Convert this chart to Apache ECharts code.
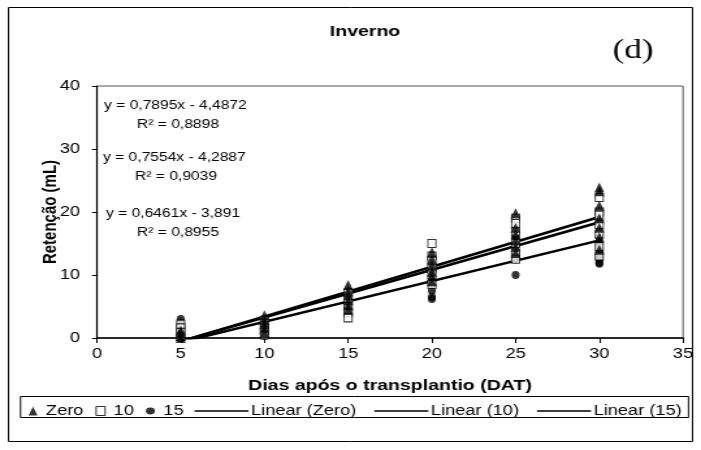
<!DOCTYPE html>
<html><head><meta charset="utf-8">
<script src="https://cdn.jsdelivr.net/npm/echarts@6/dist/echarts.min.js"></script>
<style>html,body{margin:0;padding:0;background:#fff;overflow:hidden;width:701px;height:450px}
#c{width:539px;height:450px;transform:scaleX(1.3006);transform-origin:0 0}</style>
</head><body><div id="c"></div>
<script>
const xTicks = [0,5,10,15,20,25,30,35];
const yTicks = [0,10,20,30,40];
const zeroPts = [[5,0],[5,0.3],[5,0.8],[5,1.2],[10,3.6],[10,2.8],[10,2.2],[10,1.5],[10,0.8],[15,8.4],[15,7.5],[15,6.8],[15,6.0],[15,5.2],[15,4.5],[20,13.6],[20,12.5],[20,11.5],[20,10.5],[20,9.8],[20,9.0],[25,19.8],[25,17.5],[25,16.5],[25,15.5],[25,14.5],[25,13.5],[30,23.9],[30,23.3],[30,21.0],[30,19.0],[30,17.5],[30,16.0],[30,14.0]];
const tenPts = [[5,2.2],[5,1.6],[5,0.9],[5,0.2],[10,2.8],[10,2.0],[10,1.2],[10,0.5],[15,7.2],[15,6.0],[15,5.0],[15,4.0],[15,3.2],[20,15.0],[20,13.0],[20,12.2],[20,11.0],[20,10.0],[20,8.5],[25,19.0],[25,18.2],[25,16.8],[25,15.0],[25,13.5],[25,12.5],[30,22.3],[30,20.0],[30,19.5],[30,18.0],[30,16.5],[30,14.5],[30,13.0]];
const fifteenPts = [[5,3.0],[5,2.4],[5,1.5],[5,0.6],[5,0],[10,3.0],[10,2.4],[10,1.8],[10,1.0],[10,0.3],[15,6.5],[15,5.5],[15,4.8],[15,4.2],[20,10.5],[20,9.5],[20,8.5],[20,7.5],[20,6.5],[20,6.2],[25,16.0],[25,14.8],[25,13.5],[25,12.5],[25,10.0],[30,16.0],[30,15.0],[30,14.0],[30,13.0],[30,12.5],[30,12.0],[30,11.8]];
const trendZero = [[5,-0.54],[30,19.20]];
const trendTen = [[5,-0.51],[30,18.37]];
const trendFifteen = [[5,-0.66],[30,15.49]];
const seriesNames = ['Zero','10','15','Linear (Zero)','Linear (10)','Linear (15)'];
const equations = ['y = 0,7895x - 4,4872','y = 0,7554x - 4,2887','y = 0,6461x - 3,891'];
const rSquared = ['R² = 0,8898','R² = 0,9039','R² = 0,8955'];

// the reference is horizontally stretched; the page is drawn 539 px wide and scaled by 1.3006
const S = 1.3006;
const px = v => v / S;
const chart = echarts.init(document.getElementById('c'), null, {renderer:'canvas'});
const F = 'Liberation Sans, Arial, sans-serif';
const eqPos = [[104,106],[103,158],[106,214]];
const rPos = [[137,125],[135,177],[137,233]];
const graphics = [
  {type:'rect', shape:{x:px(8.5),y:7.5,width:px(684),height:434}, style:{fill:'none',stroke:'#000',lineWidth:1}, z:-1},
  {type:'rect', shape:{x:px(20.5),y:396.5,width:px(668),height:21}, style:{fill:'none',stroke:'#000',lineWidth:1}},
  {type:'text', style:{text:'Inverno', x:px(365), y:32, font:'bold 15px '+F, fill:'#000', textAlign:'center', textVerticalAlign:'middle'}},
  {type:'text', style:{text:'(d)', x:px(633), y:51, font:'27px Liberation Serif, Times New Roman, serif', fill:'#000', textAlign:'center', textVerticalAlign:'middle'}}
];
equations.forEach((t,i)=>{
  graphics.push({type:'text', style:{text:t, x:px(eqPos[i][0]), y:eqPos[i][1], font:'12px '+F, fill:'#000', textVerticalAlign:'middle'}});
  graphics.push({type:'text', style:{text:rSquared[i], x:px(rPos[i][0]), y:rPos[i][1], font:'12px '+F, fill:'#000', textVerticalAlign:'middle'}});
});

const option = {
  animation:false,
  backgroundColor:'#fff',
  grid:{left:px(97), right:px(18), top:86, bottom:112, show:true, borderColor:'#555', borderWidth:1},
  xAxis:{type:'value', min:0, max:35, interval:5,
    name:'Dias após o transplantio (DAT)', nameLocation:'middle', nameGap:40, nameMoveOverlap:false,
    nameTextStyle:{fontFamily:F, fontWeight:'bold', fontSize:15, color:'#000'},
    axisLine:{show:true, onZero:false, lineStyle:{color:'#000', width:1.5}},
    axisTick:{show:true, inside:false, length:5, lineStyle:{color:'#000'}},
    axisLabel:{fontFamily:F, fontSize:14, color:'#000', margin:9, formatter:v=>xTicks.includes(v)?String(v):''},
    splitLine:{show:false}},
  yAxis:{type:'value', min:0, max:40, interval:10,
    name:'Retenção (mL)', nameLocation:'middle', nameGap:px(37), nameMoveOverlap:false,
    nameTextStyle:{fontFamily:F, fontWeight:'bold', fontSize:15, color:'#000'},
    axisLine:{show:true, onZero:false, lineStyle:{color:'#000', width:1.2}},
    axisTick:{show:true, inside:false, length:px(5), lineStyle:{color:'#000'}},
    axisLabel:{fontFamily:F, fontSize:14, color:'#000', margin:px(17), formatter:v=>yTicks.includes(v)?String(v):''},
    splitLine:{show:false}},
  legend:[
    {left:px(22), top:399, orient:'horizontal', itemWidth:px(9), itemHeight:9, itemGap:px(12),
     textStyle:{fontFamily:F, fontSize:14, color:'#000', padding:[0,0,0,px(2)]},
     data:[
      {name:seriesNames[0], icon:'triangle', itemStyle:{color:'#000', borderWidth:0}},
      {name:seriesNames[1], icon:'rect', itemStyle:{color:'#fff', borderColor:'#000', borderWidth:1}},
      {name:seriesNames[2], icon:'circle', itemStyle:{color:'#000', borderWidth:0}}]},
    {left:px(188), top:399, orient:'horizontal', itemWidth:px(54), itemHeight:9, itemGap:px(18),
     textStyle:{fontFamily:F, fontSize:14, color:'#000', padding:[0,0,0,-3]},
     data:seriesNames.slice(3).map(n=>({name:n, icon:'path://M0,4.5L42,4.5L42,6L0,6Z', itemStyle:{color:'#000'}}))}
  ],
  series:[
    {name:seriesNames[3], type:'line', data:trendZero, symbol:'none', lineStyle:{color:'#000', width:2.5}, clip:true, z:1},
    {name:seriesNames[4], type:'line', data:trendTen, symbol:'none', lineStyle:{color:'#000', width:2.5}, clip:true, z:1},
    {name:seriesNames[5], type:'line', data:trendFifteen, symbol:'none', lineStyle:{color:'#000', width:2.5}, clip:true, z:1},
    {name:seriesNames[2], type:'scatter', data:fifteenPts, symbol:'circle', symbolSize:[px(8),8], itemStyle:{color:'#000'}, z:2},
    {name:seriesNames[1], type:'scatter', data:tenPts, symbol:'rect', symbolSize:[px(8),8], itemStyle:{color:'#fff', borderColor:'#000', borderWidth:1}, z:3},
    {name:seriesNames[0], type:'scatter', data:zeroPts, symbol:'triangle', symbolSize:[px(10),10], itemStyle:{color:'#000'}, z:4}
  ],
  graphic:graphics
};
chart.setOption(option);
</script></body></html>
